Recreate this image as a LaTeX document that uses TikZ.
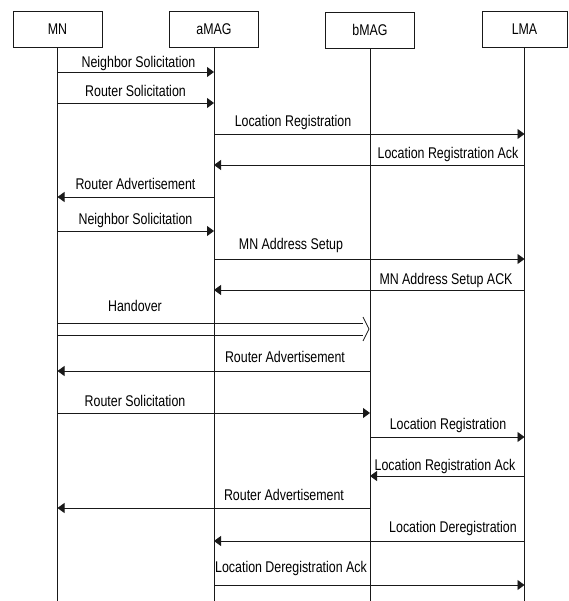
\documentclass[tikz,border=0pt]{standalone}
\usepackage{fontspec}
\setmainfont{Liberation Sans}[FakeStretch=0.8]
\usetikzlibrary{arrows.meta}
\begin{document}
\begin{tikzpicture}[x=1pt,y=-1pt,
  actor/.style={draw=black!90, line width=0.8pt, minimum width=89pt, minimum height=36pt, inner sep=0pt, font=\fontsize{15.5}{17}\selectfont},
  life/.style={draw=black!90, line width=0.8pt},
  msg/.style={draw=black!90, line width=0.8pt, -{Triangle[length=7pt,width=10pt]}},
  lbl/.style={anchor=base, inner sep=0pt, font=\fontsize{15.5}{17}\selectfont}]
\useasboundingbox (0,0) rectangle (568,601);
% actors
\node[actor] (mn) at (57.5,29) {MN};
\node[actor] (amag) at (214,29) {aMAG};
\node[actor] (bmag) at (370,30) {bMAG};
\node[actor, minimum width=85pt] (lma) at (524.5,29) {LMA};
% lifeline ends
\coordinate (mnE) at (mn |- 0,601);
\coordinate (amagE) at (amag |- 0,601);
\coordinate (bmagE) at (bmag |- 0,601);
\coordinate (lmaE) at (lma |- 0,601);
\draw[life] (mn.south) -- (mnE);
\draw[life] (amag.south) -- (amagE);
\draw[life] (bmag.south) -- (bmagE);
\draw[life] (lma.south) -- (lmaE);
% messages
\draw[msg] (mn |- 0,72) -- (amag |- 0,72);
\node[lbl] (l1) at (138.5,67.5) {Neighbor Solicitation};
\draw[msg] (mn |- 0,103) -- (amag |- 0,103);
\node[lbl] (l2) at (135.5,97) {Router Solicitation};
\draw[msg] (amag |- 0,134) -- (lma |- 0,134);
\node[lbl] (l3) at (293,127) {Location Registration};
\draw[msg] (lma |- 0,165) -- (amag |- 0,165);
\node[lbl] (l4) at (448,159) {Location Registration Ack};
\draw[msg] (amag |- 0,197) -- (mn |- 0,197);
\node[lbl] (l5) at (135.5,190) {Router Advertisement};
\draw[msg] (mn |- 0,231) -- (amag |- 0,231);
\node[lbl] (l6) at (135.5,225) {Neighbor Solicitation};
\draw[msg] (amag |- 0,259) -- (lma |- 0,259);
\node[lbl] (l7) at (291,249) {MN Address Setup};
\draw[msg] (lma |- 0,290) -- (amag |- 0,290);
\node[lbl] (l8) at (446,284) {MN Address Setup ACK};
% handover (hollow double arrow)
\coordinate (ho1) at (mn |- 0,329);
\coordinate (ho2) at (bmag |- 0,329);
\draw[life] ([yshift=6pt]ho1) -- ([xshift=-7pt,yshift=6pt]ho2);
\draw[life] ([yshift=-6pt]ho1) -- ([xshift=-7pt,yshift=-6pt]ho2);
\draw[life, line join=miter] ([xshift=-7pt,yshift=12pt]ho2) -- ([xshift=-1pt]ho2) -- ([xshift=-7pt,yshift=-12pt]ho2);
\node[lbl] (l9) at (135,311) {Handover};
\draw[msg] (bmag |- 0,371) -- (mn |- 0,371);
\node[lbl] (l10) at (285,362) {Router Advertisement};
\draw[msg] (mn |- 0,413) -- (bmag |- 0,413);
\node[lbl] (l11) at (135,406) {Router Solicitation};
\draw[msg] (bmag |- 0,437) -- (lma |- 0,437);
\node[lbl] (l12) at (448,429) {Location Registration};
\draw[msg] (lma |- 0,476) -- (bmag |- 0,476);
\node[lbl] (l13) at (445,470) {Location Registration Ack};
\draw[msg] (bmag |- 0,508) -- (mn |- 0,508);
\node[lbl] (l14) at (284,500) {Router Advertisement};
\draw[msg] (lma |- 0,541) -- (amag |- 0,541);
\node[lbl] (l15) at (453,532) {Location Deregistration};
\draw[msg] (amag |- 0,585) -- (lma |- 0,585);
\node[lbl] (l16) at (291,572) {Location Deregistration Ack};
\end{tikzpicture}
\end{document}
